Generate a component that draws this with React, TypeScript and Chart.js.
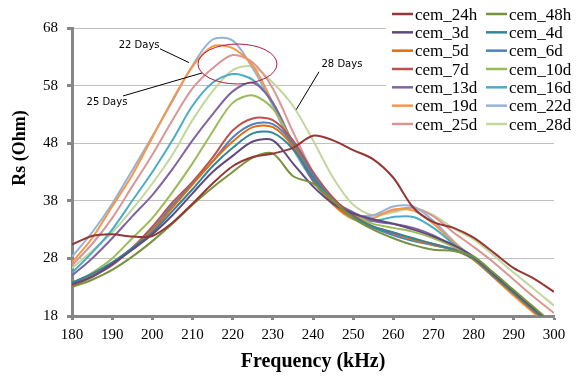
import React, { useEffect, useRef } from "react";
import { Chart, registerables } from "chart.js";

Chart.register(...registerables);

// ---- data ----
const FREQ_KHZ = [180, 185, 190, 195, 200, 205, 210, 215, 220, 225, 230, 235, 240, 245, 250, 255, 260, 265, 270, 275, 280, 285, 290, 295, 300];
const X_TICKS = [180, 190, 200, 210, 220, 230, 240, 250, 260, 270, 280, 290, 300];
const Y_TICKS = [18, 28, 38, 48, 58, 68];

const SERIES_LABELS = ["cem_24h", "cem_48h", "cem_3d", "cem_4d", "cem_5d", "cem_6d", "cem_7d", "cem_10d", "cem_13d", "cem_16d", "cem_19d", "cem_22d", "cem_25d", "cem_28d"];

const RS_24H = [30.4, 31.9, 32.2, 31.8, 31.9, 34.2, 37.5, 41, 44, 45.6, 46.2, 47.2, 49.3, 48.5, 46.8, 45.2, 42, 36.8, 34.3, 33.3, 31.6, 29, 26.3, 24.5, 22.2];
const RS_48H = [23, 24.3, 26, 28.3, 31, 34, 37.3, 40.3, 43, 45.5, 46.2, 42.3, 41, 38, 35, 33, 31.5, 30.3, 29.5, 29.3, 28.3, 25.5, 22.5, 19.5, 16.5];
const RS_3D = [23.5, 24.8, 27, 29.5, 32.2, 35.5, 39.3, 43, 45.8, 48.3, 48.5, 44.5, 40.5, 37.5, 35.8, 34.8, 34, 33, 31.8, 30.3, 28.3, 25.3, 22.3, 19.3, 16.5];
const RS_4D = [23.8, 25.3, 27.3, 29.8, 32.5, 36.2, 40, 44, 47.2, 49.7, 49.8, 47, 42, 38, 35.2, 33.5, 32.5, 31.5, 30.5, 29.5, 28, 25, 22, 19, 16];
const RS_5D = [23.8, 25.2, 27.2, 29.8, 32.8, 36.8, 40.8, 44.8, 48.3, 50.8, 50.8, 47.5, 42, 37.5, 35, 33.5, 32.5, 31.3, 30.3, 29.5, 27.8, 24.8, 21.8, 18.8, 16];
const RS_6D = [23.5, 25, 27.1, 29.8, 33, 37.2, 41, 44.8, 49, 51.3, 51.3, 48, 42.5, 38, 35, 33.3, 32, 31, 30.3, 29.5, 28, 25, 22, 19, 16];
const RS_7D = [23.2, 24.8, 26.8, 29.8, 33.5, 37.7, 41.3, 45.5, 50.2, 52.3, 52, 48.5, 43, 38.5, 35.5, 33.5, 32.3, 31.3, 30.5, 29.6, 28, 25.3, 22.3, 19.3, 16.5];
const RS_10D = [23.5, 25.5, 28, 31.5, 35, 39.5, 44.5, 50, 55, 56.3, 54, 48, 42, 38, 35.5, 34, 33.3, 32.6, 31.5, 30, 28, 25, 22, 19, 16];
const RS_13D = [25, 28, 31.5, 35.3, 39, 43.5, 48.5, 53, 57, 58.5, 55, 48, 41.5, 38, 36, 34.5, 34, 33.3, 32, 30, 28, 25, 22, 19, 16];
const RS_16D = [25.5, 29, 33, 38, 43, 48.5, 54.5, 58.5, 60, 59, 55, 47.5, 41.5, 37.5, 35, 34.5, 35.2, 35.2, 33.3, 30.5, 27.8, 24.8, 21.8, 18.8, 16];
const RS_19D = [27.3, 31.5, 37, 42.5, 49, 55.5, 61.3, 64.8, 64.5, 61.5, 55, 47.5, 41.5, 37.3, 34.8, 35, 36.5, 36.3, 34, 30.8, 27.8, 24.7, 21.5, 18.5, 15.8];
const RS_22D = [28.3, 32.5, 37.5, 43.3, 49.2, 55.3, 61.5, 66, 65.8, 61, 54.5, 47, 41.5, 37.5, 35, 35.5, 37, 37, 34.5, 31, 28, 25, 21.8, 18.8, 16];
const RS_25D = [26.8, 30.5, 35, 40.5, 46, 52, 57.5, 61, 63.3, 62, 57.5, 50, 43, 38.5, 35.5, 35.5, 36.3, 36.8, 35.3, 32.5, 30, 27.3, 24.3, 21.3, 18.5];
const RS_28D = [26.3, 29.3, 32.5, 36.5, 41, 46, 52, 57, 60.7, 61.3, 58.5, 54.5, 48.5, 42, 37.3, 35.5, 36, 36.7, 35.5, 33.2, 31.3, 28.5, 25.5, 22.7, 19.8];

const SERIES = [RS_24H, RS_48H, RS_3D, RS_4D, RS_5D, RS_6D, RS_7D, RS_10D, RS_13D, RS_16D, RS_19D, RS_22D, RS_25D, RS_28D];

// ---- styles ----
const COLORS = ["#953735", "#77933C", "#604A7B", "#31859C", "#E46C0A", "#4F81BD", "#C0504D", "#9BBB59", "#8064A2", "#4BACC6", "#F79646", "#95B3D7", "#D99694", "#C3D69B"];
const SERIF = "'Liberation Serif', 'Times New Roman', serif";
const AXIS_GRAY = "#868686";

// annotations, in data units (kHz, Ohm)
const NOTE_TEXTS = ["22 Days", "25 Days", "28 Days"];
const NOTE_AT = [[196.7, 64.9], [188.7, 55.15], [247.2, 61.75]];
const NOTE_LINES = [[201.9, 64.4, 209.1, 62.0], [192.7, 56.2, 212.4, 60.2], [241.5, 60.4, 235.8, 53.8]];
const ELLIPSE = { f: 221.2, v: 61.75, rf: 9.83, rv: 3.47 };

const overlayPlugin = {
  id: "overlay",
  afterDraw(chart: any) {
    const { ctx } = chart;
    const xs = chart.scales.x;
    const ys = chart.scales.y;
    ctx.save();
    // annotation leader lines
    ctx.strokeStyle = "#000";
    ctx.lineWidth = 1;
    NOTE_LINES.forEach(([f1, v1, f2, v2]) => {
      ctx.beginPath();
      ctx.moveTo(xs.getPixelForValue(f1), ys.getPixelForValue(v1));
      ctx.lineTo(xs.getPixelForValue(f2), ys.getPixelForValue(v2));
      ctx.stroke();
    });
    ctx.fillStyle = "#000";
    ctx.font = "10px 'DejaVu Sans'";
    ctx.textAlign = "center";
    ctx.textBaseline = "middle";
    NOTE_TEXTS.forEach((t, i) => {
      ctx.fillText(t, xs.getPixelForValue(NOTE_AT[i][0]), ys.getPixelForValue(NOTE_AT[i][1]));
    });
    // ellipse
    const cx = xs.getPixelForValue(ELLIPSE.f);
    const cy = ys.getPixelForValue(ELLIPSE.v);
    const rx = Math.abs(xs.getPixelForValue(ELLIPSE.f + ELLIPSE.rf) - cx);
    const ry = Math.abs(ys.getPixelForValue(ELLIPSE.v + ELLIPSE.rv) - cy);
    ctx.strokeStyle = "#B0173F";
    ctx.lineWidth = 1;
    ctx.beginPath();
    ctx.ellipse(cx, cy, rx, ry, 0, 0, Math.PI * 2);
    ctx.stroke();

    // legend (two columns)
    ctx.fillStyle = "#fff";
    ctx.fillRect(386, 0, 194, 132);
    ctx.font = `17px ${SERIF}`;
    ctx.textAlign = "left";
    ctx.textBaseline = "alphabetic";
    chart.data.datasets.forEach((ds: any, i: number) => {
      const col = i % 2;
      const row = Math.floor(i / 2);
      const x0 = col === 0 ? 392 : 486;
      const yc = 14 + row * 18.33;
      ctx.strokeStyle = ds.borderColor;
      ctx.lineWidth = 2.5;
      ctx.beginPath();
      ctx.moveTo(x0, yc);
      ctx.lineTo(x0 + 21, yc);
      ctx.stroke();
      ctx.fillStyle = "#000";
      ctx.fillText(ds.label, x0 + 23, yc + 5.7);
    });

    // y axis title
    ctx.translate(20, 148);
    ctx.rotate(-Math.PI / 2);
    ctx.font = `bold 18px ${SERIF}`;
    ctx.textAlign = "center";
    ctx.textBaseline = "middle";
    ctx.fillStyle = "#000";
    ctx.fillText("Rs (Ohm)", 0, 0);
    ctx.restore();
  },
};

export default function App() {
  const ref = useRef<HTMLCanvasElement>(null);
  useEffect(() => {
    const datasets = SERIES.map((vals, i) => ({
      label: SERIES_LABELS[i],
      data: FREQ_KHZ.map((f, j) => ({ x: f, y: vals[j] })),
      borderColor: COLORS[i],
      backgroundColor: COLORS[i],
      borderWidth: 2,
      pointRadius: 0,
      tension: 0.3,
      fill: false,
    }));
    const chart = new Chart(ref.current as HTMLCanvasElement, {
      type: "line",
      data: { datasets },
      options: {
        animation: false,
        responsive: false,
        events: [],
        layout: { padding: { top: 28, right: 26, left: 0, bottom: 0 } },
        plugins: { legend: { display: false }, tooltip: { enabled: false } },
        scales: {
          x: {
            type: "linear",
            min: 180,
            max: 300,
            afterBuildTicks: (s: any) => {
              s.ticks = X_TICKS.map((v) => ({ value: v }));
            },
            ticks: { font: { family: SERIF, size: 15 }, color: "#000", padding: 6, maxRotation: 0, autoSkip: false },
            grid: { drawOnChartArea: false, drawTicks: true, tickLength: 4, tickColor: AXIS_GRAY, tickWidth: 3 },
            border: { color: AXIS_GRAY, width: 3 },
            title: {
              display: true,
              text: "Frequency (kHz)",
              font: { family: SERIF, size: 20, weight: "bold" },
              color: "#000",
              padding: { top: 0, bottom: 13 },
            },
            afterFit: (s: any) => {
              s.height = 71;
            },
          },
          y: {
            type: "linear",
            min: 18,
            max: 68,
            afterBuildTicks: (s: any) => {
              s.ticks = Y_TICKS.map((v) => ({ value: v }));
            },
            ticks: { font: { family: SERIF, size: 15 }, color: "#000", padding: 9 },
            grid: { color: "#C0C0C0", lineWidth: 1, tickLength: 5, tickColor: AXIS_GRAY, tickWidth: 3 },
            border: { color: AXIS_GRAY, width: 3 },
            afterFit: (s: any) => {
              s.width = 72;
            },
          },
        },
      },
      plugins: [overlayPlugin],
    } as any);
    return () => chart.destroy();
  }, []);

  return (
    <div style={{ position: "absolute", left: 0, top: 0, width: 580, height: 387, background: "#fff" }}>
      <canvas ref={ref} width={580} height={387} style={{ display: "block" }} />
    </div>
  );
}
